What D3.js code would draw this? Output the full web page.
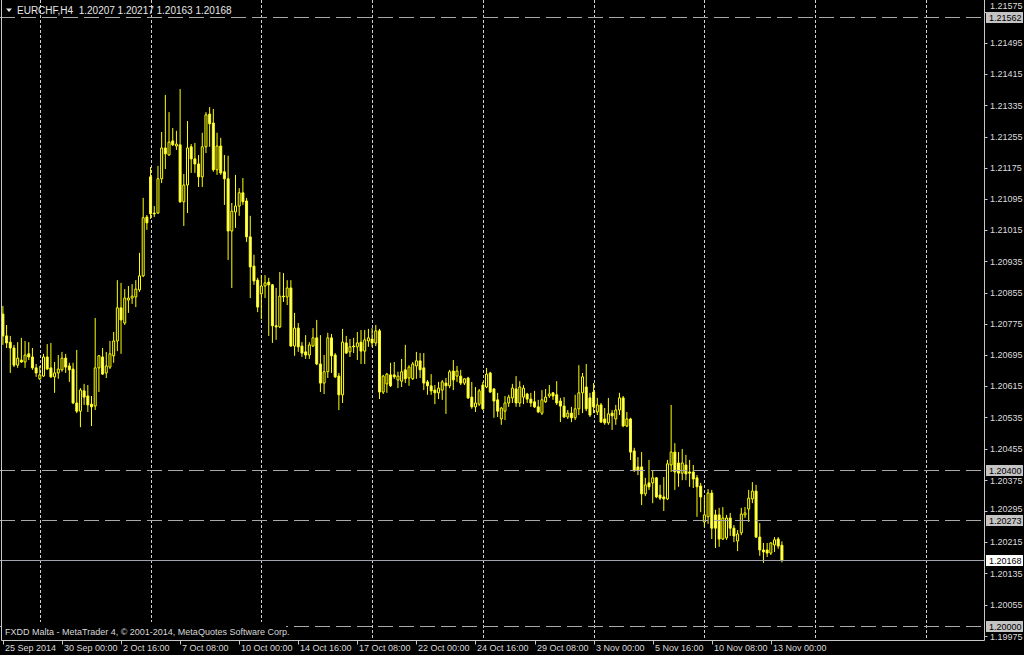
<!DOCTYPE html>
<html><head><meta charset="utf-8">
<script src="https://cdn.jsdelivr.net/npm/d3@7"></script>
<style>html,body{margin:0;padding:0;background:#000;overflow:hidden}svg{display:block}text{font-family:"Liberation Sans",Arial,sans-serif}</style>
</head><body>
<svg id="c" width="1024" height="655"></svg>
<script>
const symbol = "EURCHF,H4";
const copyright = "FXDD Malta - MetaTrader 4, \u00a9 2001-2014, MetaQuotes Software Corp.";
const firstBarUTC = [2014, 8, 25, 8]; // 25 Sep 2014 08:00, H4 bars

const open = [
1.20800,1.20744,1.20728,1.20713,1.20669,1.20682,1.20677,1.20698,1.20690,1.20662,
1.20634,1.20641,1.20690,1.20662,1.20639,1.20649,1.20657,1.20687,1.20667,1.20659,
1.20572,1.20551,1.20603,1.20590,1.20569,1.20564,1.20662,1.20690,1.20649,1.20664,
1.20693,1.20731,1.20816,1.20777,1.20836,1.20841,1.20844,1.20862,1.20898,1.21049,
1.21152,1.21059,1.21059,1.21147,1.21226,1.21208,1.21244,1.21231,1.21234,1.21088,
1.21131,1.21229,1.21198,1.21185,1.21152,1.21229,1.21313,1.21290,1.21170,1.21231,
1.21165,1.21147,1.21013,1.21062,1.21077,1.21111,1.21090,1.20998,1.20923,1.20887,
1.20852,1.20872,1.20882,1.20875,1.20770,1.20767,1.20846,1.20844,1.20867,1.20718,
1.20764,1.20718,1.20703,1.20695,1.20718,1.20739,1.20672,1.20623,1.20652,1.20739,
1.20695,1.20641,1.20593,1.20726,1.20703,1.20718,1.20716,1.20728,1.20705,1.20731,
1.20736,1.20726,1.20757,1.20600,1.20621,1.20644,1.20644,1.20631,1.20628,1.20657,
1.20636,1.20634,1.20667,1.20680,1.20662,1.20626,1.20616,1.20605,1.20598,1.20605,
1.20623,1.20616,1.20654,1.20641,1.20641,1.20623,1.20636,1.20587,1.20562,1.20569,
1.20618,1.20613,1.20649,1.20608,1.20580,1.20531,1.20551,1.20572,1.20585,1.20608,
1.20572,1.20587,1.20595,1.20582,1.20575,1.20562,1.20546,1.20575,1.20590,1.20598,
1.20593,1.20577,1.20564,1.20536,1.20546,1.20534,1.20557,1.20598,1.20613,1.20585,
1.20600,1.20549,1.20567,1.20531,1.20521,1.20546,1.20531,1.20554,1.20585,1.20513,
1.20531,1.20449,1.20408,1.20408,1.20339,1.20367,1.20367,1.20380,1.20336,1.20331,
1.20326,1.20413,1.20446,1.20418,1.20392,1.20413,1.20395,1.20395,1.20380,1.20359,
1.20267,1.20280,1.20341,1.20285,1.20285,1.20223,1.20226,1.20277,1.20251,1.20218,
1.20239,1.20285,1.20300,1.20326,1.20346,1.20228,1.20195,1.20195,1.20187,1.20208,
1.20223,1.20207];

const high = [
1.20821,1.20772,1.20744,1.20721,1.20728,1.20739,1.20731,1.20728,1.20713,1.20672,
1.20667,1.20698,1.20723,1.20726,1.20677,1.20695,1.20703,1.20698,1.20675,1.20675,
1.20708,1.20610,1.20621,1.20618,1.20590,1.20790,1.20695,1.20713,1.20703,1.20731,
1.20754,1.20887,1.20880,1.20864,1.20872,1.20877,1.20887,1.20957,1.21098,1.21054,
1.21177,1.21077,1.21180,1.21267,1.21362,1.21318,1.21277,1.21270,1.21377,1.21159,
1.21295,1.21236,1.21239,1.21208,1.21265,1.21318,1.21331,1.21326,1.21265,1.21252,
1.21208,1.21206,1.21085,1.21157,1.21123,1.21149,1.21098,1.21052,1.20952,1.20893,
1.20900,1.20900,1.20893,1.20877,1.20867,1.20908,1.20905,1.20887,1.20887,1.20803,
1.20777,1.20728,1.20746,1.20728,1.20764,1.20785,1.20746,1.20695,1.20752,1.20749,
1.20700,1.20649,1.20762,1.20744,1.20736,1.20739,1.20754,1.20759,1.20759,1.20762,
1.20764,1.20772,1.20762,1.20644,1.20649,1.20675,1.20677,1.20652,1.20685,1.20721,
1.20669,1.20677,1.20703,1.20700,1.20700,1.20631,1.20646,1.20618,1.20626,1.20631,
1.20636,1.20657,1.20682,1.20667,1.20657,1.20636,1.20639,1.20626,1.20613,1.20608,
1.20626,1.20662,1.20652,1.20610,1.20598,1.20562,1.20590,1.20593,1.20621,1.20641,
1.20628,1.20618,1.20598,1.20598,1.20603,1.20580,1.20605,1.20608,1.20618,1.20600,
1.20628,1.20585,1.20587,1.20554,1.20562,1.20593,1.20669,1.20649,1.20672,1.20598,
1.20623,1.20585,1.20572,1.20559,1.20585,1.20554,1.20567,1.20598,1.20590,1.20549,
1.20534,1.20457,1.20433,1.20446,1.20380,1.20426,1.20400,1.20382,1.20362,1.20382,
1.20426,1.20567,1.20469,1.20446,1.20454,1.20439,1.20426,1.20413,1.20387,1.20367,
1.20331,1.20351,1.20349,1.20298,1.20303,1.20305,1.20285,1.20290,1.20259,1.20246,
1.20303,1.20305,1.20349,1.20369,1.20362,1.20264,1.20213,1.20213,1.20215,1.20228,
1.20228,1.20217];

const low = [
1.20721,1.20713,1.20649,1.20664,1.20662,1.20675,1.20662,1.20682,1.20657,1.20639,
1.20631,1.20639,1.20657,1.20636,1.20598,1.20634,1.20652,1.20649,1.20626,1.20569,
1.20546,1.20510,1.20567,1.20549,1.20513,1.20554,1.20600,1.20644,1.20636,1.20659,
1.20675,1.20705,1.20698,1.20772,1.20803,1.20826,1.20818,1.20857,1.20895,1.21016,
1.21044,1.21049,1.21057,1.21136,1.21172,1.21206,1.21231,1.21221,1.21085,1.21026,
1.21059,1.21162,1.21162,1.21126,1.21126,1.21213,1.21229,1.21165,1.21157,1.21157,
1.21080,1.20939,1.20867,1.21021,1.21052,1.21080,1.20985,1.20841,1.20875,1.20805,
1.20787,1.20841,1.20744,1.20726,1.20734,1.20764,1.20831,1.20823,1.20716,1.20693,
1.20703,1.20690,1.20685,1.20685,1.20716,1.20669,1.20600,1.20595,1.20636,1.20649,
1.20636,1.20554,1.20572,1.20698,1.20690,1.20700,1.20682,1.20672,1.20672,1.20716,
1.20716,1.20718,1.20582,1.20595,1.20598,1.20613,1.20634,1.20610,1.20613,1.20623,
1.20616,1.20631,1.20634,1.20636,1.20605,1.20593,1.20593,1.20569,1.20582,1.20580,
1.20544,1.20610,1.20605,1.20626,1.20618,1.20618,1.20582,1.20557,1.20549,1.20564,
1.20554,1.20610,1.20598,1.20534,1.20536,1.20516,1.20528,1.20562,1.20572,1.20562,
1.20562,1.20569,1.20572,1.20562,1.20559,1.20546,1.20541,1.20572,1.20585,1.20580,
1.20567,1.20523,1.20534,1.20531,1.20523,1.20528,1.20541,1.20546,1.20551,1.20536,
1.20546,1.20541,1.20521,1.20516,1.20516,1.20503,1.20516,1.20541,1.20510,1.20510,
1.20426,1.20395,1.20387,1.20310,1.20333,1.20349,1.20315,1.20328,1.20323,1.20295,
1.20323,1.20395,1.20349,1.20357,1.20374,1.20374,1.20357,1.20354,1.20280,1.20292,
1.20254,1.20262,1.20223,1.20200,1.20203,1.20221,1.20221,1.20231,1.20215,1.20192,
1.20233,1.20277,1.20267,1.20315,1.20226,1.20180,1.20162,1.20177,1.20182,1.20190,
1.20198,1.20163];

const close = [
1.20744,1.20726,1.20713,1.20669,1.20687,1.20677,1.20695,1.20690,1.20662,1.20649,
1.20644,1.20690,1.20659,1.20639,1.20649,1.20659,1.20687,1.20664,1.20657,1.20572,
1.20551,1.20605,1.20587,1.20567,1.20562,1.20662,1.20693,1.20646,1.20667,1.20698,
1.20731,1.20816,1.20785,1.20841,1.20841,1.20846,1.20864,1.20898,1.21047,1.21034,
1.21057,1.21057,1.21147,1.21226,1.21211,1.21241,1.21234,1.21236,1.21088,1.21131,
1.21226,1.21198,1.21185,1.21152,1.21229,1.21311,1.21288,1.21170,1.21231,1.21162,
1.21147,1.21013,1.21064,1.21077,1.21111,1.21088,1.20998,1.20921,1.20885,1.20818,
1.20872,1.20880,1.20875,1.20770,1.20767,1.20846,1.20844,1.20867,1.20718,1.20764,
1.20716,1.20700,1.20695,1.20721,1.20739,1.20672,1.20623,1.20652,1.20739,1.20693,
1.20639,1.20593,1.20728,1.20700,1.20716,1.20716,1.20726,1.20705,1.20734,1.20739,
1.20726,1.20757,1.20600,1.20641,1.20646,1.20616,1.20639,1.20641,1.20652,1.20634,
1.20664,1.20672,1.20680,1.20657,1.20623,1.20616,1.20603,1.20598,1.20610,1.20626,
1.20616,1.20652,1.20631,1.20654,1.20623,1.20634,1.20585,1.20562,1.20572,1.20603,
1.20557,1.20646,1.20600,1.20577,1.20551,1.20559,1.20572,1.20587,1.20610,1.20572,
1.20613,1.20610,1.20582,1.20572,1.20562,1.20549,1.20580,1.20587,1.20595,1.20590,
1.20572,1.20564,1.20536,1.20546,1.20534,1.20557,1.20598,1.20639,1.20557,1.20541,
1.20562,1.20567,1.20523,1.20521,1.20544,1.20539,1.20554,1.20585,1.20513,1.20531,
1.20446,1.20400,1.20400,1.20339,1.20362,1.20357,1.20380,1.20331,1.20328,1.20326,
1.20416,1.20446,1.20395,1.20392,1.20418,1.20390,1.20392,1.20377,1.20357,1.20331,
1.20285,1.20341,1.20251,1.20251,1.20223,1.20277,1.20277,1.20251,1.20231,1.20236,
1.20287,1.20290,1.20328,1.20346,1.20228,1.20195,1.20190,1.20187,1.20213,1.20221,
1.20205,1.20168];

const priceTicks = [1.21575,1.21495,1.21415,1.21335,1.21255,1.21175,1.21095,1.21015,1.20935,1.20855,
  1.20775,1.20695,1.20615,1.20535,1.20455,1.20375,1.20295,1.20215,1.20135,1.20055,1.19975];
const timeLabels = ["25 Sep 2014","30 Sep 00:00","2 Oct 16:00","7 Oct 08:00","10 Oct 00:00","14 Oct 16:00",
  "17 Oct 08:00","22 Oct 00:00","24 Oct 16:00","29 Oct 08:00","3 Nov 00:00","5 Nov 16:00","10 Nov 08:00","13 Nov 00:00"];
const timeLabelEvery = 16; // bars between time labels
const levelLines = [1.21562, 1.20400, 1.20273, 1.20000];
const bidPrice = close[close.length - 1];

// ---------- layout ----------
const W = 1024, H = 655;
const plotRight = 984.5, plotBottom = 640.5;
const svg = d3.select("#c");
svg.append("rect").attr("width", W).attr("height", H).attr("fill", "#000");

const x = d3.scaleLinear().domain([0, 266]).range([2.9, 984.97]);
const y = d3.scaleLinear().domain([1.199641, 1.216055]).range([640, 0]);
const crisp = v => Math.round(v) + 0.5;

// bar times (H4, weekdays only), extended into the empty future area
const barTimes = [];
{
  let t = Date.UTC(...firstBarUTC);
  while (barTimes.length < 267) {
    const d = new Date(t), wd = d.getUTCDay();
    if (wd !== 0 && wd !== 6) barTimes.push(d);
    t += 4 * 3600e3;
  }
}
const weekStarts = barTimes.map((d, i) => (d.getUTCDay() === 1 && d.getUTCHours() === 0) ? i : -1).filter(i => i >= 0);

svg.append("defs").append("clipPath").attr("id", "plot")
  .append("rect").attr("x", 0).attr("y", 0).attr("width", plotRight).attr("height", plotBottom);

// vertical grid
svg.append("g").selectAll("line").data(weekStarts).join("line")
  .attr("x1", d => crisp(x(d))).attr("x2", d => crisp(x(d)))
  .attr("y1", 0).attr("y2", 640)
  .attr("stroke", "#d0d0d0").attr("stroke-width", 1).attr("stroke-dasharray", "3,2");

// candles
const bars = d3.range(open.length).map(i => ({i, o: open[i], h: high[i], l: low[i], c: close[i]}));
const cg = svg.append("g").attr("clip-path", "url(#plot)");
cg.selectAll("line.w").data(bars).join("line").attr("class", "w")
  .attr("x1", d => x(d.i)).attr("x2", d => x(d.i))
  .attr("y1", d => y(d.h)).attr("y2", d => y(d.l))
  .attr("stroke", "#ffff00").attr("stroke-width", 1);
cg.selectAll("path.b").data(bars).join("path").attr("class", "b")
  .attr("d", d => {
    const cx = x(d.i), t = y(Math.max(d.o, d.c)), b = y(Math.min(d.o, d.c));
    return `M${cx - 1},${t}H${cx + 1}V${b}H${cx - 1}Z`;
  })
  .attr("fill", d => d.c > d.o ? "#000000" : "#ffffb0")
  .attr("stroke", "#ffff00").attr("stroke-width", 1);

// horizontal level lines (dashed) and bid line
svg.append("g").selectAll("line").data(levelLines).join("line")
  .attr("x1", 0).attr("x2", plotRight)
  .attr("y1", d => crisp(y(d))).attr("y2", d => crisp(y(d)))
  .attr("stroke", "#a8a8a8").attr("stroke-width", 1).attr("stroke-dasharray", "15,6");
svg.append("line").attr("x1", 0).attr("x2", plotRight)
  .attr("y1", crisp(y(bidPrice))).attr("y2", crisp(y(bidPrice)))
  .attr("stroke", "#a0a4ac").attr("stroke-width", 1);

// copyright
svg.append("rect").attr("x", 2).attr("y", 622).attr("width", 284).attr("height", 17).attr("fill", "#000");
svg.append("text").attr("x", 5).attr("y", 634.5).attr("font-size", 9).attr("fill", "#d8d8d8").text(copyright);

// title
svg.append("path").attr("d", "M6,8.5L12,8.5L9,12Z").attr("fill", "#e8e8e8");
const fmt = d3.format(".5f");
const last = bars[bars.length - 1];
svg.append("text").attr("x", 17).attr("y", 14).attr("font-size", 10).attr("fill", "#e8e8e8")
  .attr("xml:space", "preserve").style("white-space", "pre")
  .text(`${symbol}  ${fmt(last.o)} ${fmt(last.h)} ${fmt(last.l)} ${fmt(last.c)}`);

// frame / axes
const axisColor = "#c8c8c8";
svg.append("line").attr("x1", 1.5).attr("x2", 1.5).attr("y1", 0).attr("y2", plotBottom).attr("stroke", axisColor);
svg.append("line").attr("x1", plotRight).attr("x2", plotRight).attr("y1", 0).attr("y2", plotBottom).attr("stroke", axisColor);
svg.append("line").attr("x1", 1.5).attr("x2", plotRight).attr("y1", plotBottom).attr("y2", plotBottom).attr("stroke", axisColor);

// price axis
const pa = svg.append("g");
pa.selectAll("line").data(priceTicks).join("line")
  .attr("x1", plotRight).attr("x2", plotRight + 3)
  .attr("y1", d => crisp(y(d))).attr("y2", d => crisp(y(d))).attr("stroke", axisColor);
// a label that would sit under a price tag is nudged just above it
const tagPrices = levelLines.concat([bidPrice]);
const labelY = d => {
  const yy = y(d);
  const clash = tagPrices.find(p => Math.abs(y(p) - yy) < 10);
  if (clash === undefined) return yy;
  return y(clash) > yy ? Math.min(yy, y(clash) - 11) : Math.max(yy, y(clash) + 11);
};
pa.selectAll("text").data(priceTicks).join("text")
  .attr("x", 990).attr("y", labelY).attr("dy", "0.35em")
  .attr("font-size", 9).attr("fill", "#dcdcdc").text(d => fmt(d));

// price tags
const tags = levelLines.map(p => ({p, bg: "#c4c4c4"})).concat([{p: bidPrice, bg: "#ffffff"}]);
const tg = svg.append("g").selectAll("g").data(tags).join("g");
tg.append("rect").attr("x", 986).attr("y", d => Math.round(y(d.p)) - 5).attr("width", 37).attr("height", 11)
  .attr("fill", d => d.bg);
tg.append("text").attr("x", 989).attr("y", d => Math.round(y(d.p)) + 0.5).attr("dy", "0.35em")
  .attr("font-size", 9).attr("fill", "#000").text(d => fmt(d.p));

// time axis
const ta = svg.append("g");
const tIdx = timeLabels.map((s, k) => ({s, i: k * timeLabelEvery}));
ta.selectAll("line").data(tIdx).join("line")
  .attr("x1", d => crisp(x(d.i))).attr("x2", d => crisp(x(d.i)))
  .attr("y1", plotBottom).attr("y2", plotBottom + 4).attr("stroke", axisColor);
ta.selectAll("text").data(tIdx).join("text")
  .attr("x", d => Math.round(x(d.i)) + 2).attr("y", 650.5)
  .attr("font-size", 9).attr("fill", "#dcdcdc").text(d => d.s);
</script>
</body></html>
